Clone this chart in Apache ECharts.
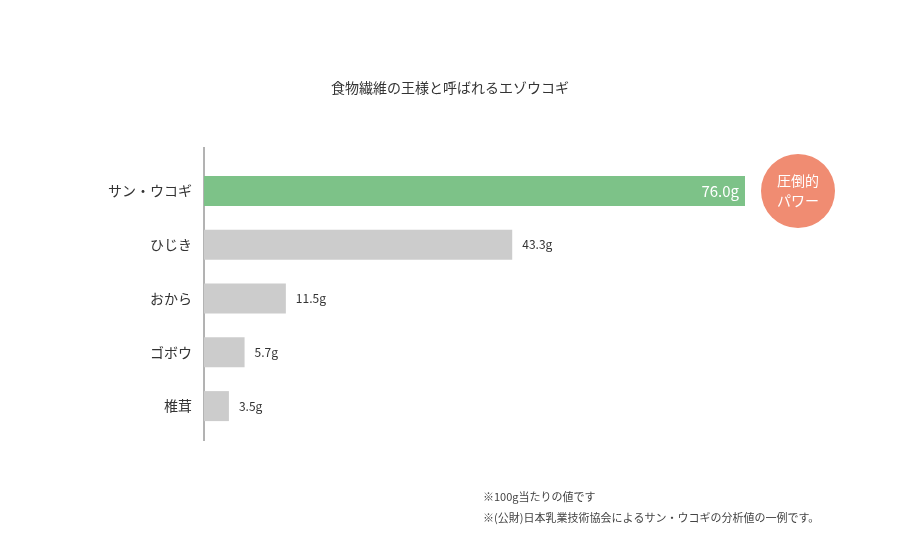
<!DOCTYPE html>
<html><head><meta charset="utf-8">
<script src="https://cdn.jsdelivr.net/npm/echarts@6/dist/echarts.min.js"></script>
<style>html,body{margin:0;padding:0;background:#fff}#c{width:900px;height:550px}</style>
</head><body><div id="c"></div>
<script>
const categories = ['サン・ウコギ','ひじき','おから','ゴボウ','椎茸'];
const values = [76.0, 43.3, 11.5, 5.7, 3.5];
const labels = ['76.0g','43.3g','11.5g','5.7g','3.5g'];
const title = '食物繊維の王様と呼ばれるエゾウコギ';
const notes = ['※100g当たりの値です','※(公財)日本乳業技術協会によるサン・ウコギの分析値の一例です。'];
const badge = '圧倒的\nパワー';
const F = '"Noto Sans CJK JP", "Noto Sans", sans-serif';
const chart = echarts.init(document.getElementById('c'));
chart.setOption({
  animation:false,
  title:{text:title,left:'center',top:76,textStyle:{fontFamily:F,fontSize:14,fontWeight:'normal',color:'#333'}},
  grid:{left:204,right:155,top:164,bottom:117},
  xAxis:{type:'value',min:0,max:76,show:false},
  yAxis:{type:'category',inverse:true,data:categories,axisLine:{show:false},axisTick:{show:false},
    axisLabel:{fontFamily:F,fontSize:14,color:'#333',margin:12}},
  series:[{type:'bar',barWidth:30,
    data:values.map((v,i)=>({value:v,itemStyle:{color:i===0?'#7dc288':'#cccccc'},
      label:i===0?{show:true,position:'insideRight',color:'#fff',fontSize:15,distance:6}:{show:true,position:'right',color:'#333',fontSize:12,distance:10}})),
    label:{fontFamily:F,formatter:p=>labels[p.dataIndex]}}],
  graphic:[
    {type:'line',shape:{x1:204,y1:147,x2:204,y2:441},style:{stroke:'#666',lineWidth:1}},
    {type:'circle',shape:{cx:798,cy:191,r:37},style:{fill:'#f08c72'}},
    {type:'text',x:798,y:191,style:{text:badge,fill:'#fff',font:'14px '+F,align:'center',verticalAlign:'middle',lineHeight:20}},
    {type:'text',x:483,y:497,style:{text:notes[0],fill:'#444',font:'11px '+F,verticalAlign:'middle'}},
    {type:'text',x:483,y:518,style:{text:notes[1],fill:'#444',font:'11px '+F,verticalAlign:'middle'}}
  ]
});
</script></body></html>
